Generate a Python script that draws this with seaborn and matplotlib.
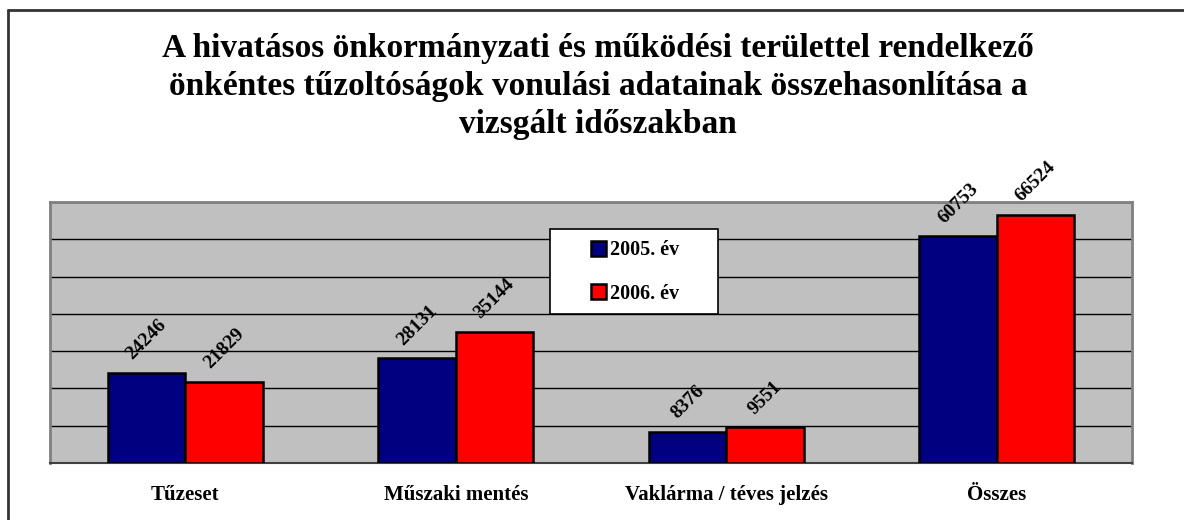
import pandas as pd
import matplotlib.pyplot as plt
import seaborn as sns
from matplotlib.lines import Line2D
from matplotlib.patches import Rectangle

categories = ['Tűzeset', 'Műszaki mentés', 'Vaklárma / téves jelzés', 'Összes']
years = ['2005. év', '2006. év']
values_2005 = [24246, 28131, 8376, 60753]
values_2006 = [21829, 35144, 9551, 66524]
colors = ['#000080', '#FF0000']
title = ('A hivatásos önkormányzati és működési területtel rendelkező\n'
         'önkéntes tűzoltóságok vonulási adatainak összehasonlítása a\n'
         'vizsgált időszakban')

df = pd.DataFrame({
    'Kategória': categories * 2,
    'Év': [years[0]] * len(categories) + [years[1]] * len(categories),
    'Vonulás': values_2005 + values_2006,
})

sns.set_style('white')
plt.rcParams['font.family'] = ['Liberation Serif', 'DejaVu Serif']
plt.rcParams['text.color'] = 'black'
plt.rcParams['xtick.color'] = 'black'
plt.rcParams['ytick.color'] = 'black'

W, H = 1184, 520
fig = plt.figure(figsize=(W / 100, H / 100), dpi=100)
ax = fig.add_axes([50 / W, 1 - 463 / H, (1132 - 50) / W, (463 - 202) / H])

sns.barplot(data=df, x='Kategória', y='Vonulás', hue='Év', palette=colors,
            saturation=1, width=0.573, gap=0, edgecolor='black',
            linewidth=1.8, ax=ax, zorder=3)

# value labels, rotated like in the original
for cont, vals in zip(ax.containers, [values_2005, values_2006]):
    ax.bar_label(cont, labels=[str(v) for v in vals], padding=7, rotation=45,
                 fontsize=14, fontweight='bold', color='black')

ax.set_facecolor('#C0C0C0')
ax.set_xlim(-0.5, 3.5)
ax.set_ylim(0, 70000)
ax.set_yticks(range(0, 70001, 10000))
ax.yaxis.grid(True, color='black', lw=1)
ax.set_axisbelow(True)
ax.tick_params(axis='y', length=0, labelleft=False)
ax.set_xlabel('')
ax.set_ylabel('')
ax.set_xticks(range(len(categories)))
ax.set_xticklabels(categories, fontsize=15, fontweight='bold', color='black')
ax.tick_params(axis='x', which='major', length=0, pad=16)
ax.set_xticks([i - 0.5 for i in range(len(categories) + 1)], minor=True)
ax.tick_params(axis='x', which='minor', length=7, width=1, color='black',
               direction='out')

for side in ['left', 'top', 'right']:
    ax.spines[side].set_color('#808080')
    ax.spines[side].set_linewidth(2)
ax.spines['bottom'].set_color('#404040')
ax.spines['bottom'].set_linewidth(1.5)

# legend in a white box
old = ax.get_legend()
handles = old.legend_handles
labels = [t.get_text() for t in old.get_texts()]
box = Rectangle((550 / W, 1 - 314 / H), 168 / W, 85 / H, transform=fig.transFigure,
                facecolor='white', edgecolor='black', lw=1.2, zorder=6, clip_on=False)
ax.add_patch(box)
leg = ax.legend(handles, labels, loc='center', bbox_to_anchor=(635 / W, 1 - 272 / H),
                bbox_transform=fig.transFigure, frameon=False,
                prop={'weight': 'bold', 'size': 14.5}, handlelength=0.75,
                handleheight=0.75, handletextpad=0.2, labelspacing=1.15)
for t in leg.get_texts():
    t.set_color('black')
leg.set_zorder(7)

fig.text(598 / W, 1 - 33 / H, title, ha='center', va='top', fontsize=24,
         fontweight='bold', linespacing=1.3, color='black')

# outer chart border (left and top edges visible)
fig.add_artist(Line2D([8 / W, 8 / W], [0, 1 - 10 / H], color='#333333', lw=2))
fig.add_artist(Line2D([8 / W, 1], [1 - 10 / H, 1 - 10 / H], color='#333333', lw=2))

fig.savefig('out.png', dpi=100)
